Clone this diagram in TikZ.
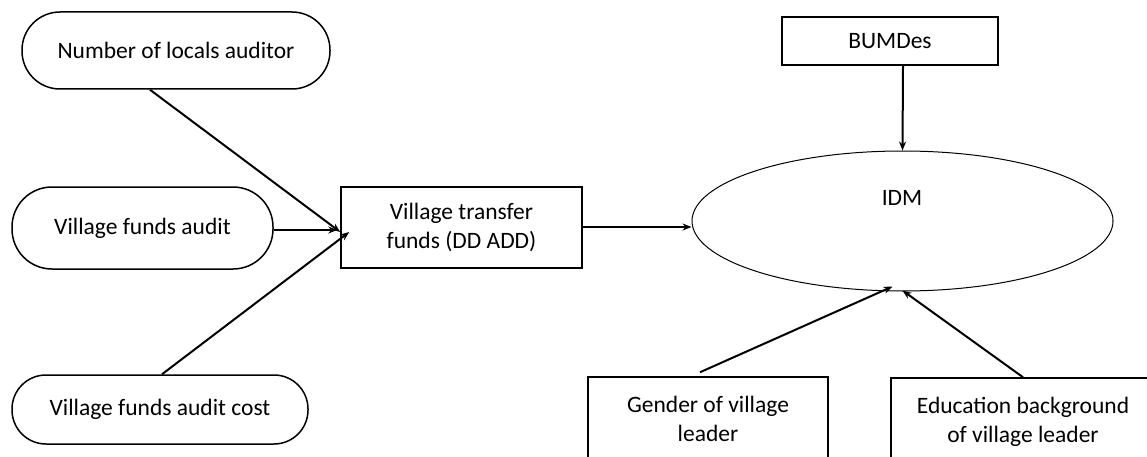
\documentclass[tikz,border=0pt]{standalone}
\usepackage{fontspec}
\setmainfont{Carlito}
\usetikzlibrary{arrows.meta,shapes.geometric}
\begin{document}
\begin{tikzpicture}[x=1pt,y=-1pt,
  txt/.style={font=\fontsize{23.5}{29}\selectfont, align=center, inner sep=0pt},
  pill/.style={txt, draw, line width=1.5pt, rounded corners=#1},
  boxnode/.style={txt, draw, line width=1.5pt},
  arr/.style={line width=2pt, -{Stealth[length=9pt,width=7pt]}}
]
\useasboundingbox (0,0) rectangle (1147,457);
\clip (0,0) rectangle (1147,457);

\node[pill=38pt, minimum width=308pt, minimum height=77pt] (nla) at (176,50.5) {Number of locals auditor};
\node[pill=40pt, minimum width=261pt, minimum height=82pt] (vfa) at (142.5,228) {Village funds audit};
\node[pill=34pt, minimum width=296pt, minimum height=69pt] (vfac) at (160,409.5) {Village funds audit cost};

\node[boxnode, minimum width=241pt, minimum height=81pt] (vtf) at (461.5,227.5) {Village transfer\\funds (DD ADD)};

\node[draw, line width=1pt, ellipse, minimum width=421pt, minimum height=140pt] (idm) at (902.5,221) {};
\node[txt] (idmt) at (902,198) {IDM};

\node[boxnode, minimum width=216pt, minimum height=48pt] (bum) at (890,41) {BUMDes};

\node[boxnode, minimum width=240pt, minimum height=84pt] (gen) at (708,419) {Gender of village\\leader};
\node[boxnode, minimum width=264pt, minimum height=88pt] (edu) at (1023,422) {Education background\\of village leader};

\coordinate (vtfe) at ([yshift=0.5pt]vtf.east);
\draw[arr] ([xshift=-26pt]nla.south) -- ([yshift=-4.5pt]vtf.west);
\draw[arr] ([yshift=-2pt]vfa.east) -- ([xshift=-3pt,yshift=-2.5pt]vtf.west);
\draw[arr] ([xshift=2pt]vfac.north) -- ([xshift=9pt,yshift=-4.5pt]vtf.west);
\draw[arr] (vtfe) -- (vtfe -| idm.west);
\draw[arr] ([xshift=13pt]bum.south) -- (idm.north);
\draw[arr] ([xshift=-8pt,yshift=4pt]gen.north) -- ([xshift=-10pt,yshift=5pt]idm.south);
\draw[arr] (edu.north) -- ([yshift=1pt]idm.south);
\end{tikzpicture}
\end{document}
